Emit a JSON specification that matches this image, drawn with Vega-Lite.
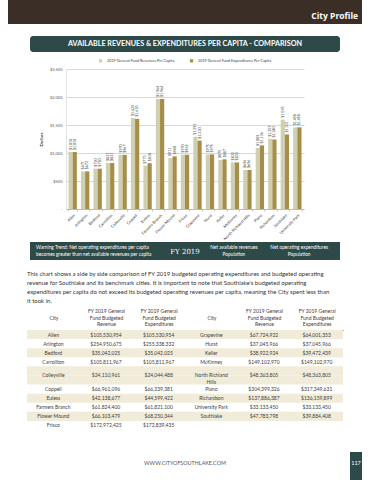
{
  "$schema": "https://vega.github.io/schema/vega-lite/v6.json",
  "padding": {"left": 8, "top": 0, "right": 0, "bottom": 0},
  "background": "white",
  "bounds": "flush",
  "center": true,
  "spacing": 0,
  "config": {
    "view": {"stroke": null},
    "font": "Lato",
    "legend": {"layout": {"top": {"anchor": "middle"}}}
  },
  "resolve": {
    "scale": {"x": "independent", "y": "independent", "color": "independent"},
    "legend": {"color": "independent"}
  },
  "vconcat": [
    {
      "width": 354, "height": 24,
      "view": {"fill": "#3b2e26", "stroke": null},
      "data": {"values": [{"label": "City Profile"}]},
      "mark": {"type": "text", "align": "right", "baseline": "middle", "dx": -4, "dy": 4, "fontSize": 8.5, "fontWeight": "bold", "color": "white", "font": "Open Sans"},
      "encoding": {"x": {"value": "width"}, "text": {"field": "label"}}
    },
    {"width": 10, "height": 12, "data": {"values": []}, "mark": "point", "encoding": {}},
    {
      "width": 310, "height": 16,
      "view": {"fill": "#2e4a48", "stroke": null, "cornerRadius": 3},
      "data": {"values": [{"t": "AVAILABLE REVENUES & EXPENDITURES PER CAPITA - COMPARISON"}]},
      "mark": {"type": "text", "fontSize": 7.2, "fontWeight": "bold", "color": "white", "baseline": "middle"},
      "encoding": {"text": {"field": "t"}}
    },
    {"width": 10, "height": 17, "data": {"values": []}, "mark": "point", "encoding": {}},
    {
      "width": 238, "height": 140,
      "data": {"values": [
        {"city": "Allen", "rev": 1018, "exp": 1018},
        {"city": "Arlington", "rev": 671, "exp": 672},
        {"city": "Bedford", "rev": 720, "exp": 720},
        {"city": "Carrollton", "rev": 821, "exp": 821},
        {"city": "Colleyville", "rev": 970, "exp": 967},
        {"city": "Coppell", "rev": 1625, "exp": 1610},
        {"city": "Euless", "rev": 773, "exp": 818},
        {"city": "Farmers Branch", "rev": 1964, "exp": 1964},
        {"city": "Flower Mound", "rev": 911, "exp": 940},
        {"city": "Frisco", "rev": 970, "exp": 969},
        {"city": "Grapevine", "rev": 1291, "exp": 1220},
        {"city": "Hurst", "rev": 975, "exp": 975},
        {"city": "Keller", "rev": 875, "exp": 887},
        {"city": "McKinney", "rev": 832, "exp": 832},
        {"city": "North Richland Hills", "rev": 696, "exp": 696},
        {"city": "Plano", "rev": 1089, "exp": 1136},
        {"city": "Richardson", "rev": 1255, "exp": 1240},
        {"city": "Southlake", "rev": 1595, "exp": 1331},
        {"city": "University Park", "rev": 1458, "exp": 1458}
      ]},
      "transform": [{"fold": ["rev", "exp"], "as": ["series", "value"]}],
      "encoding": {
        "x": {
          "field": "city", "type": "nominal", "sort": null,
          "scale": {"paddingInner": 0.33, "paddingOuter": 0.2},
          "axis": {"title": null, "labelAngle": -45, "labelFontSize": 4, "labelColor": "#404040", "domainColor": "#a6a6a6", "tickColor": "#a6a6a6", "tickSize": 2, "labelPadding": 2, "tickBand": "extent", "domainWidth": 0.6, "tickWidth": 0.6}
        },
        "xOffset": {"field": "series", "sort": ["rev", "exp"]},
        "y": {
          "field": "value", "type": "quantitative",
          "scale": {"domain": [0, 2500]},
          "axis": {"title": "Dollars", "values": [0, 500, 1000, 1500, 2000, 2500], "labelExpr": "datum.value == 0 ? '-' : '$' + format(datum.value, ',')", "labelFontSize": 4, "labelColor": "#595959", "titleFontSize": 4.5, "titleColor": "#404040", "titlePadding": 6, "gridColor": "#bfbfbf", "gridWidth": 0.6, "domainColor": "#d0d0d0", "domainWidth": 0.6, "ticks": false, "labelPadding": 4}
        },
        "color": {
          "field": "series", "type": "nominal",
          "scale": {"domain": ["rev", "exp"], "range": ["#cfd0b3", "#a68e49"]},
          "legend": {"orient": "top", "direction": "horizontal", "title": null, "labelFontSize": 3.8, "labelColor": "#404040", "symbolType": "square", "symbolSize": 10, "offset": 6, "columnPadding": 14, "labelExpr": "datum.value == 'rev' ? '2019 General Fund Revenues Per Capita' : '2019 General Fund Expenditures Per Capita'"}
        }
      },
      "layer": [
        {"mark": {"type": "bar"}},
        {
          "mark": {"type": "text", "angle": 270, "align": "left", "baseline": "middle", "dx": 2, "fontSize": 3.6, "color": "#404040"},
          "encoding": {"text": {"field": "value", "format": "$,.0f"}, "color": {"value": "#404040"}}
        }
      ]
    },
    {"width": 10, "height": 33, "data": {"values": []}, "mark": "point", "encoding": {}},
    {
      "width": 310, "height": 18,
      "view": {"fill": "#2e4a48", "stroke": null},
      "layer": [
        {
          "data": {"values": [
            {"slot": "warn", "t": "Warning Trend:  Net operating expenditures per capita\nbecomes greater than net available revenues per capita"}
          ]},
          "mark": {"type": "text", "lineBreak": "\n", "fontSize": 4.8, "color": "white", "align": "left", "baseline": "middle", "lineHeight": 6.5, "dy": -3},
          "encoding": {
            "x": {"field": "slot", "type": "nominal", "axis": null, "bandPosition": 0.37,
              "scale": {"type": "band", "domain": ["warn", "a", "b", "c", "d", "e", "f", "g", "h", "fy", "i", "j", "rev", "k", "l", "m", "exp", "n", "o"], "paddingInner": 0, "paddingOuter": 0}},
            "text": {"field": "t"}
          }
        },
        {
          "data": {"values": [
            {"slot": "rev", "t": "Net available revenues\nPopulation"},
            {"slot": "exp", "t": "Net operating expenditures\nPopulation"}
          ]},
          "mark": {"type": "text", "lineBreak": "\n", "fontSize": 4.8, "color": "white", "baseline": "middle", "lineHeight": 6.5, "dy": -3},
          "encoding": {"x": {"field": "slot", "type": "nominal"}, "text": {"field": "t"}}
        },
        {
          "data": {"values": [{"slot": "fy", "t": "FY 2019"}]},
          "mark": {"type": "text", "fontSize": 7, "color": "white", "baseline": "middle", "font": "DejaVu Serif", "dy": 0.5},
          "encoding": {"x": {"field": "slot", "type": "nominal"}, "text": {"field": "t"}}
        }
      ]
    },
    {"width": 10, "height": 70, "data": {"values": []}, "mark": "point", "encoding": {}},
    {
      "width": 316, "height": 100,
      "title": {
        "text": [
          "This chart shows a side by side comparison of FY 2019 budgeted operating expenditures and budgeted operating",
          "revenue for Southlake and its benchmark cities. It is important to note that Southlake's budgeted operating",
          "expenditures per capita do not exceed its budgeted operating revenues per capita, meaning the City spent less than",
          "it took in."
        ],
        "anchor": "start", "fontSize": 6, "fontWeight": "normal", "color": "#333333", "lineHeight": 9, "offset": 5
      },
      "encoding": {
        "x": {
          "field": "col", "type": "nominal",
          "scale": {"domain": ["c1", "c2", "c3", "c4", "c5", "c6"], "paddingInner": 0, "paddingOuter": 0},
          "axis": {"orient": "top", "title": null, "labelAngle": 0, "labelOverlap": false, "ticks": false, "labelFontSize": 5, "labelColor": "#404040", "labelLineHeight": 6.7, "labelPadding": 16.5, "domainColor": "#4d4d4d", "domainWidth": 1,
            "labelExpr": "datum.value == 'c1' || datum.value == 'c4' ? ['', 'City'] : (datum.value == 'c2' || datum.value == 'c5' ? ['FY 2019 General', 'Fund Budgeted', 'Revenue'] : ['FY 2019 General', 'Fund Budgeted', 'Expenditures'])"}
        },
        "y": {"field": "row", "type": "ordinal", "axis": null, "scale": {"domain": ["1", "2", "3", "4", "5", "5b", "6", "7", "8", "9", "10"], "paddingInner": 0, "paddingOuter": 0}}
      },
      "layer": [
        {
          "data": {"values": [{"row": "1"}, {"row": "3"}, {"row": "5"}, {"row": "5b"}, {"row": "7"}, {"row": "9"}]},
          "mark": {"type": "rect", "color": "#f1ecd9"},
          "encoding": {"x": {"value": 0}, "x2": {"value": "width"}}
        },
        {
          "data": {"name": "table", "values": [
            {"row": "1", "c1": "Allen", "c2": "$105,530,954", "c3": "$105,530,954", "c4": "Grapevine", "c5": "$67,724,922", "c6": "$64,001,353"},
            {"row": "2", "c1": "Arlington", "c2": "$254,950,675", "c3": "$255,338,332", "c4": "Hurst", "c5": "$37,045,966", "c6": "$37,045,966"},
            {"row": "3", "c1": "Bedford", "c2": "$35,042,025", "c3": "$35,042,025", "c4": "Keller", "c5": "$38,922,924", "c6": "$39,472,439"},
            {"row": "4", "c1": "Carrollton", "c2": "$105,811,967", "c3": "$105,811,967", "c4": "McKinney", "c5": "$149,102,970", "c6": "$149,102,970"},
            {"row": "5", "c1": "Colleyville", "c2": "$24,110,961", "c3": "$24,044,488", "c4": "North Richland\nHills", "c5": "$48,363,805", "c6": "$48,363,805"},
            {"row": "6", "c1": "Coppell", "c2": "$66,961,096", "c3": "$66,339,381", "c4": "Plano", "c5": "$304,399,326", "c6": "$317,349,631"},
            {"row": "7", "c1": "Euless", "c2": "$42,138,677", "c3": "$44,599,422", "c4": "Richardson", "c5": "$137,886,387", "c6": "$136,159,899"},
            {"row": "8", "c1": "Farmers Branch", "c2": "$61,824,400", "c3": "$61,821,100", "c4": "University Park", "c5": "$33,133,450", "c6": "$33,133,450"},
            {"row": "9", "c1": "Flower Mound", "c2": "$66,103,479", "c3": "$68,250,344", "c4": "Southlake", "c5": "$47,783,798", "c6": "$39,884,408"},
            {"row": "10", "c1": "Frisco", "c2": "$172,972,425", "c3": "$172,839,435", "c4": "", "c5": "", "c6": ""}
          ]},
          "transform": [{"fold": ["c1", "c2", "c3", "c4", "c5", "c6"], "as": ["col", "val"]}],
          "layer": [
            {
              "transform": [{"filter": "datum.row != '5'"}],
              "mark": {"type": "text", "fontSize": 5, "color": "#404040", "baseline": "middle"},
              "encoding": {"text": {"field": "val"}}
            },
            {
              "transform": [{"filter": "datum.row == '5'"}],
              "mark": {"type": "text", "fontSize": 5, "color": "#404040", "lineBreak": "\n", "lineHeight": 6.2, "baseline": "middle"},
              "encoding": {"y": {"field": "row", "type": "ordinal", "bandPosition": 1}, "text": {"field": "val"}}
            }
          ]
        }
      ]
    },
    {"width": 10, "height": 22, "data": {"values": []}, "mark": "point", "encoding": {}},
    {
      "width": 354, "height": 28,
      "layer": [
        {
          "data": {"values": [{"t": "WWW.CITYOFSOUTHLAKE.COM"}]},
          "mark": {"type": "text", "fontSize": 5.4, "color": "#555555", "dy": -3, "baseline": "middle"},
          "encoding": {"text": {"field": "t"}}
        },
        {
          "data": {"values": [{"p": "117"}]},
          "mark": {"type": "rect", "color": "#2e4a48", "xOffset": -12},
          "encoding": {"x": {"value": "width"}, "x2": {"value": "width"}, "y": {"value": 0}, "y2": {"value": "height"}}
        },
        {
          "data": {"values": [{"p": "117"}]},
          "mark": {"type": "text", "color": "white", "fontSize": 5.5, "dx": -6, "dy": -3, "baseline": "middle"},
          "encoding": {"x": {"value": "width"}, "text": {"field": "p"}}
        }
      ]
    }
  ]
}
